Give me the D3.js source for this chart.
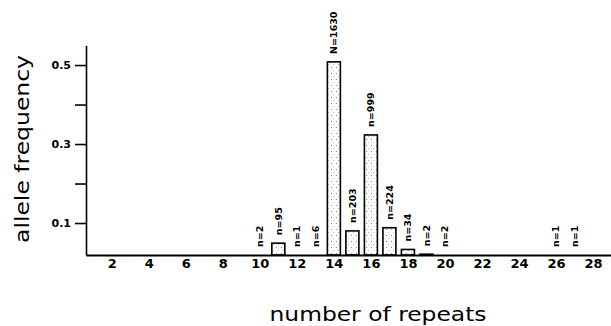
<!DOCTYPE html>
<html>
<head>
<meta charset="utf-8">
<script src="https://cdn.jsdelivr.net/npm/d3@7"></script>
<style>
  body { margin: 0; background: #fff; }
  svg { display: block; }
  .tick text { font-family: "DejaVu Sans", sans-serif; font-weight: bold; fill: #000; }
  .bar-label { font-family: "DejaVu Sans", sans-serif; font-weight: bold; font-size: 9.5px; fill: #000; }
  .title { font-family: "DejaVu Sans", sans-serif; font-size: 20px; fill: #000; }
</style>
</head>
<body>
<svg id="chart" width="611" height="326"></svg>
<script>
// --- Daten ---
const repeats = [10, 11, 12, 13, 14, 15, 16, 17, 18, 19, 20, 26, 27];
const frequencies = [0.019, 0.049, 0.019, 0.019, 0.508, 0.080, 0.323, 0.088, 0.033, 0.021, 0.019, 0.019, 0.019];
const countLabels = ['n=2', 'n=95', 'n=1', 'n=6', 'N=1630', 'n=203', 'n=999', 'n=224', 'n=34', 'n=2', 'n=2', 'n=1', 'n=1'];
const xTicks = [2, 4, 6, 8, 10, 12, 14, 16, 18, 20, 22, 24, 26, 28];
const yTicks = [0.1, 0.2, 0.3, 0.4, 0.5];
const yTickLabels = ['0.1', '', '0.3', '', '0.5'];

const svg = d3.select('#chart');

// Skalen
const x = d3.scaleLinear().domain([0.61, 28.97]).range([86, 611]);
const y = d3.scaleLinear().domain([0.019, 0.55]).range([255, 45.3]);
const barWidth = 13;

// Punktraster fuer die Balken (hell, locker)
const defs = svg.append('defs');
const pat = defs.append('pattern')
  .attr('id', 'stipple')
  .attr('patternUnits', 'userSpaceOnUse')
  .attr('width', 5).attr('height', 6);
pat.append('rect').attr('width', 5).attr('height', 6).attr('fill', '#fff');
pat.append('rect').attr('x', 1).attr('y', 1).attr('width', 1).attr('height', 1).attr('fill', '#888');
pat.append('rect').attr('x', 3).attr('y', 4).attr('width', 1).attr('height', 1).attr('fill', '#bbb');

const data = repeats.map((r, i) => ({ r: r, f: frequencies[i], label: countLabels[i] }));

// Balken
svg.append('g')
  .selectAll('rect')
  .data(data.filter(d => y(d.f) < y.range()[0] - 0.5))
  .join('rect')
  .attr('x', d => x(d.r) - barWidth / 2)
  .attr('y', d => y(d.f))
  .attr('width', barWidth)
  .attr('height', d => y.range()[0] - y(d.f))
  .attr('fill', 'url(#stipple)')
  .attr('stroke', '#000')
  .attr('stroke-width', 1.6);

// n-Beschriftungen
svg.append('g')
  .selectAll('text')
  .data(data)
  .join('text')
  .attr('class', 'bar-label')
  .attr('transform', d => `translate(${x(d.r)},${Math.min(y(d.f), 255) - 8}) rotate(-90)`)
  .attr('dy', '0.35em')
  .attr('text-anchor', 'start')
  .text(d => d.label);

// x-Achse
const xAxis = svg.append('g')
  .attr('transform', 'translate(0,255)')
  .call(d3.axisBottom(x).tickValues(xTicks).tickSize(0).tickSizeOuter(0).tickPadding(4));
xAxis.select('.domain').attr('stroke', '#000').attr('stroke-width', 2);
xAxis.selectAll('.tick text').style('font-size', '13px');

// y-Achse
const yAxis = svg.append('g')
  .attr('transform', 'translate(86,0)')
  .call(d3.axisLeft(y).tickValues(yTicks).tickSize(11).tickSizeOuter(0).tickPadding(4)
    .tickFormat((d, i) => yTickLabels[i]));
yAxis.select('.domain').attr('stroke', '#000').attr('stroke-width', 1.6);
yAxis.selectAll('.tick line').attr('stroke', '#000').attr('stroke-width', 1.6);
yAxis.selectAll('.tick text').style('font-size', '11px');

// Titel
svg.append('text')
  .attr('class', 'title')
  .attr('transform', 'translate(29,149) rotate(-90)')
  .attr('text-anchor', 'middle')
  .attr('textLength', 188)
  .attr('lengthAdjust', 'spacingAndGlyphs')
  .text('allele frequency');

svg.append('text')
  .attr('class', 'title')
  .attr('x', 378)
  .attr('y', 321)
  .attr('text-anchor', 'middle')
  .attr('textLength', 217)
  .attr('lengthAdjust', 'spacingAndGlyphs')
  .text('number of repeats');
</script>
</body>
</html>
